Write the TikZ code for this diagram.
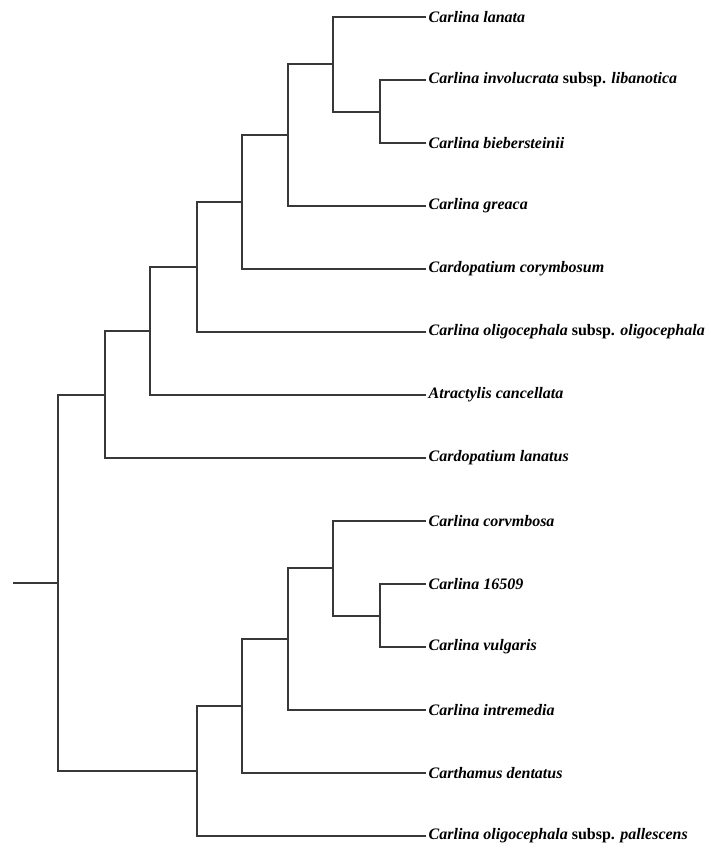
\documentclass[tikz,border=0pt]{standalone}
\usepackage{fontspec}
\setmainfont{Liberation Serif}
\begin{document}
\begin{tikzpicture}[x=1pt,y=-1pt,
  leaf/.style={anchor=west,inner sep=3.5pt,font=\fontsize{16}{18}\selectfont\bfseries\itshape},
  branch/.style={line width=1.3pt,draw=black!78,line cap=rect}]
\useasboundingbox (0,0) rectangle (710,848);
% leaves
\node[leaf] (lanata) at (425,17) {Carlina lanata};
\node[leaf] (invol) at (425,80) {Carlina involucrata \textup{subsp.} libanotica};
\node[leaf] (bieb) at (425,143) {Carlina biebersteinii};
\node[leaf] (greaca) at (425,206) {Carlina greaca};
\node[leaf] (cardcor) at (425,269) {Cardopatium corymbosum};
\node[leaf] (oligo) at (425,332) {Carlina oligocephala \textup{subsp.} oligocephala};
\node[leaf] (atract) at (425,395) {Atractylis cancellata};
\node[leaf] (cardlan) at (425,458) {Cardopatium lanatus};
\node[leaf] (corymb) at (425,521) {Carlina corvmbosa};
\node[leaf] (c16509) at (425,584) {Carlina 16509};
\node[leaf] (vulg) at (425,647) {Carlina vulgaris};
\node[leaf] (intrem) at (425,710) {Carlina intremedia};
\node[leaf] (carth) at (425,773) {Carthamus dentatus};
\node[leaf] (palles) at (425,836) {Carlina oligocephala \textup{subsp.} pallescens};
% internal nodes
\coordinate (n1) at (380,112);
\coordinate (nA) at (333,64);
\coordinate (nB) at (288,135);
\coordinate (nC) at (242,202);
\coordinate (nD) at (197,267);
\coordinate (nE) at (150,331);
\coordinate (nF) at (105,395);
\coordinate (n2) at (380,616);
\coordinate (nG) at (333,568);
\coordinate (nH) at (288,639);
\coordinate (nI) at (242,706);
\coordinate (nJ) at (197,771);
\coordinate (root) at (58,583);
\coordinate (stub) at (14,583);
% branches
\draw[branch] (n1) |- (invol.west);
\draw[branch] (n1) |- (bieb.west);
\draw[branch] (nA) |- (lanata.west);
\draw[branch] (nA) |- (n1);
\draw[branch] (nB) |- (nA);
\draw[branch] (nB) |- (greaca.west);
\draw[branch] (nC) |- (nB);
\draw[branch] (nC) |- (cardcor.west);
\draw[branch] (nD) |- (nC);
\draw[branch] (nD) |- (oligo.west);
\draw[branch] (nE) |- (nD);
\draw[branch] (nE) |- (atract.west);
\draw[branch] (nF) |- (nE);
\draw[branch] (nF) |- (cardlan.west);
\draw[branch] (n2) |- (c16509.west);
\draw[branch] (n2) |- (vulg.west);
\draw[branch] (nG) |- (corymb.west);
\draw[branch] (nG) |- (n2);
\draw[branch] (nH) |- (nG);
\draw[branch] (nH) |- (intrem.west);
\draw[branch] (nI) |- (nH);
\draw[branch] (nI) |- (carth.west);
\draw[branch] (nJ) |- (nI);
\draw[branch] (nJ) |- (palles.west);
\draw[branch] (root) |- (nF);
\draw[branch] (root) |- (nJ);
\draw[branch] (stub) -- (root);
\end{tikzpicture}
\end{document}
